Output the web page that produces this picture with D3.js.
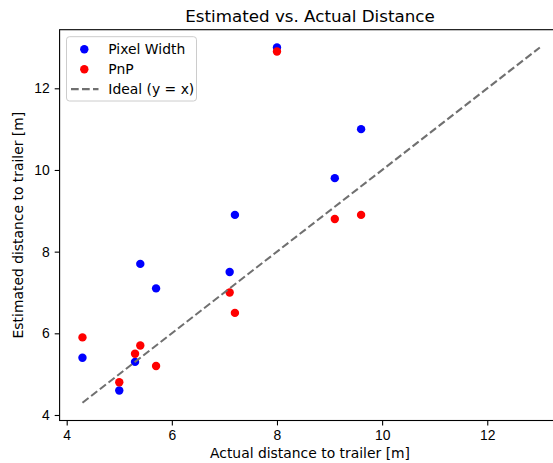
<!DOCTYPE html>
<html>
<head>
<meta charset="utf-8">
<script src="https://cdn.jsdelivr.net/npm/d3@7"></script>
<style>
  body { margin: 0; background: #fff; }
  svg { display: block; font-family: "DejaVu Sans", sans-serif; }
</style>
</head>
<body>
<svg id="chart"></svg>
<script>
// actual distances [m]
const actual = [4.3, 5.0, 5.3, 5.4, 5.7, 7.1, 7.2, 8.0, 9.1, 9.6];
// estimates [m]
const pixelWidth = [5.4, 4.6, 5.3, 7.7, 7.1, 7.5, 8.9, 13.0, 9.8, 11.0];
const pnp = [5.9, 4.8, 5.5, 5.7, 5.2, 7.0, 6.5, 12.9, 8.8, 8.9];
const idealLine = [4.3, 13];
const xTicks = [4, 6, 8, 10, 12];
const yTicks = [4, 6, 8, 10, 12];

const width = 553, height = 463;
const plotLeft = 59.6, plotRight = 562.7, plotTop = 29.7, plotBottom = 420.5;

const svg = d3.select('#chart')
  .attr('width', width)
  .attr('height', height);

const x = d3.scaleLinear().domain([3.865, 13.435]).range([plotLeft, plotRight]);
const y = d3.scaleLinear().domain([3.865, 13.435]).range([plotBottom, plotTop]);

// axes
const xAxis = svg.append('g')
  .attr('transform', `translate(0,${plotBottom})`)
  .call(d3.axisBottom(x).tickValues(xTicks).tickSize(4.9).tickPadding(4.9).tickFormat(d3.format('d')));
const yAxis = svg.append('g')
  .attr('transform', `translate(${plotLeft},0)`)
  .call(d3.axisLeft(y).tickValues(yTicks).tickSize(4.9).tickPadding(4.9).tickFormat(d3.format('d')));

[xAxis, yAxis].forEach((g) => {
  g.select('.domain').remove();
  g.selectAll('.tick line').attr('stroke', '#000').attr('stroke-width', 1.1);
  g.selectAll('.tick text').attr('fill', '#000').style('font-size', '13.9px');
});

// frame
svg.append('rect')
  .attr('x', plotLeft).attr('y', plotTop)
  .attr('width', plotRight - plotLeft).attr('height', plotBottom - plotTop)
  .attr('fill', 'none').attr('stroke', '#000').attr('stroke-width', 1.1);

// points
svg.append('g').selectAll('circle')
  .data(actual)
  .join('circle')
  .attr('cx', (d) => x(d))
  .attr('cy', (d, i) => y(pixelWidth[i]))
  .attr('r', 4.2)
  .attr('fill', '#0000ff');

svg.append('g').selectAll('circle')
  .data(actual)
  .join('circle')
  .attr('cx', (d) => x(d))
  .attr('cy', (d, i) => y(pnp[i]))
  .attr('r', 4.2)
  .attr('fill', '#ff0000');

// ideal y = x
svg.append('line')
  .attr('x1', x(idealLine[0])).attr('y1', y(idealLine[0]))
  .attr('x2', x(idealLine[1])).attr('y2', y(idealLine[1]))
  .attr('stroke', '#707070')
  .attr('stroke-width', 2.08)
  .attr('stroke-dasharray', '7.7,3.3');

// titles
svg.append('text')
  .attr('x', 310).attr('y', 22)
  .attr('text-anchor', 'middle')
  .style('font-size', '16.7px')
  .text('Estimated vs. Actual Distance');

svg.append('text')
  .attr('x', 310).attr('y', 458)
  .attr('text-anchor', 'middle')
  .style('font-size', '13.9px')
  .text('Actual distance to trailer [m]');

svg.append('text')
  .attr('transform', `translate(23,${(plotTop + plotBottom) / 2}) rotate(-90)`)
  .attr('text-anchor', 'middle')
  .style('font-size', '13.9px')
  .text('Estimated distance to trailer [m]');

// legend
const legend = svg.append('g');
legend.append('rect')
  .attr('x', 66.5).attr('y', 36.7)
  .attr('width', 130).attr('height', 64.3)
  .attr('rx', 3)
  .attr('fill', '#fff').attr('fill-opacity', 0.8)
  .attr('stroke', '#cccccc').attr('stroke-width', 1);

const items = [
  { label: 'Pixel Width', type: 'dot', color: '#0000ff' },
  { label: 'PnP', type: 'dot', color: '#ff0000' },
  { label: 'Ideal (y = x)', type: 'line', color: '#707070' },
];
items.forEach((d, i) => {
  const cy = 49.3 + i * 19.9;
  if (d.type === 'dot') {
    legend.append('circle').attr('cx', 84.3).attr('cy', cy).attr('r', 4.2).attr('fill', d.color);
  } else {
    legend.append('line')
      .attr('x1', 71).attr('x2', 98.5).attr('y1', cy).attr('y2', cy)
      .attr('stroke', d.color).attr('stroke-width', 2.08)
      .attr('stroke-dasharray', '7.7,3.3');
  }
  legend.append('text')
    .attr('x', 108.3).attr('y', cy)
    .attr('dy', '0.35em')
    .style('font-size', '13.9px')
    .text(d.label);
});
</script>
</body>
</html>
